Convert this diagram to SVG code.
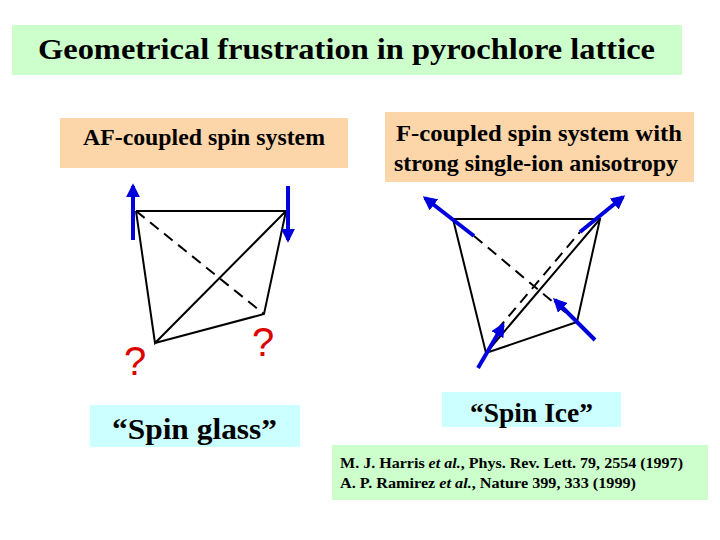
<svg xmlns="http://www.w3.org/2000/svg" width="720" height="540" viewBox="0 0 720 540">
<style>
.t{font-family:"Liberation Serif",serif;font-weight:bold;fill:#000}
.e{stroke:#000;stroke-width:2;fill:none}
.d{stroke:#000;stroke-width:2;fill:none;stroke-dasharray:11,7}
.s{stroke:#0000dd;stroke-width:4;fill:none}
.q{font-family:"Liberation Sans",sans-serif;fill:#dd0000;font-size:40px}
</style>
<defs><marker id="ah" viewBox="0 0 10 10" refX="8" refY="5" markerWidth="3.5" markerHeight="3.5" orient="auto"><path d="M0,0L10,5L0,10z" fill="#0000dd"/></marker></defs>
<rect width="720" height="540" fill="#fff"/>
<g id="title"><rect x="12" y="25" width="670" height="50" fill="#ccffcc"/><text class="t" x="38" y="59" font-size="29" textLength="617" lengthAdjust="spacingAndGlyphs">Geometrical frustration in  pyrochlore lattice</text></g>
<g id="af"><rect x="60" y="118" width="288" height="50" fill="#fcd5a8"/><text class="t" x="83" y="145" font-size="24" textLength="242" lengthAdjust="spacingAndGlyphs">AF-coupled spin system</text></g>
<g id="f"><rect x="385" y="112" width="309" height="70" fill="#fcd5a8"/><text class="t" x="396" y="141" font-size="24" textLength="286" lengthAdjust="spacingAndGlyphs">F-coupled  spin  system  with</text><text class="t" x="394" y="171" font-size="24" textLength="284" lengthAdjust="spacingAndGlyphs">strong single-ion anisotropy</text></g>
<g id="sg"><rect x="90" y="405" width="210" height="42" fill="#ccffff"/><text class="t" x="112" y="439" font-size="30" textLength="165" lengthAdjust="spacingAndGlyphs">“Spin glass”</text></g>
<g id="si"><rect x="442" y="392" width="179" height="35" fill="#ccffff"/><text class="t" x="470" y="422" font-size="27" textLength="123" lengthAdjust="spacingAndGlyphs">“Spin Ice”</text></g>
<g id="ref"><rect x="332" y="445" width="376" height="55" fill="#ccffcc"/><text class="t" x="340" y="468" font-size="15" textLength="343" lengthAdjust="spacingAndGlyphs">M. J. Harris <tspan font-style="italic">et al.</tspan>, Phys. Rev. Lett. 79, 2554 (1997)</text><text class="t" x="340" y="488" font-size="15" textLength="296" lengthAdjust="spacingAndGlyphs">A. P. Ramirez <tspan font-style="italic">et al.</tspan>, Nature 399, 333 (1999)</text></g>
<g id="connectors">
<path class="e" d="M136,211L286,211L155,343L136,211M286,211L264,314L155,343"/>
<path class="d" d="M136,211L264,314"/>
<path class="s" d="M133,240L133,186" marker-end="url(#ah)"/>
<path class="s" d="M288,186L288,240" marker-end="url(#ah)"/>
<path class="e" d="M453,219L600,219L577,322L486,353L453,219M600,219L486,353"/>
<path class="d" d="M474,236L577,322M497,330L580,232"/>
<path class="s" d="M474,236L425,198" marker-end="url(#ah)"/>
<path class="s" d="M580,232L623,197" marker-end="url(#ah)"/>
<path class="s" d="M478,368L503,325" marker-end="url(#ah)"/>
<path class="s" d="M595,340L555,300" marker-end="url(#ah)"/>
</g>
<g id="q"><text class="q" x="124" y="375">?</text><text class="q" x="252" y="356">?</text></g>
</svg>
